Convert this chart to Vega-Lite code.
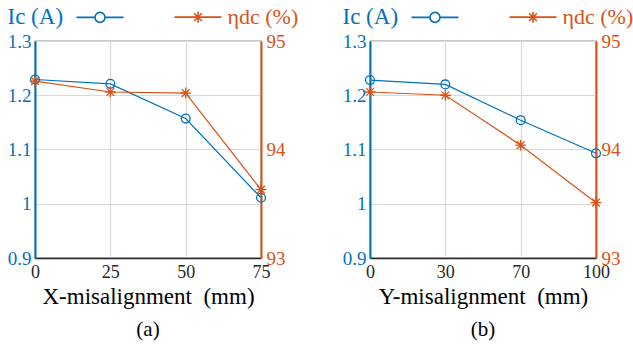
{
  "$schema": "https://vega.github.io/schema/vega-lite/v6.json",
  "padding": {"left": 6, "top": 4, "right": 2, "bottom": 4},
  "config": {
    "font": "Liberation Serif",
    "style": {"guide-label": {"font": "Liberation Serif"}, "guide-title": {"font": "Liberation Serif"}, "group-title": {"font": "Liberation Serif"}},
    "view": {"stroke": "#262626", "strokeWidth": 1.2},
    "axis": {"labelFont": "Liberation Serif", "titleFont": "Liberation Serif", "titleFontWeight": "normal", "ticks": false, "gridColor": "#d9d9d9", "gridWidth": 1.2},
    "title": {"font": "Liberation Serif", "fontWeight": "normal"}
  },
  "datasets": {
    "a": [
      {"x": "0", "ic": 1.229, "eta": 94.63, "s": "Ic"},
      {"x": "25", "ic": 1.221, "eta": 94.53, "s": "Ic"},
      {"x": "50", "ic": 1.157, "eta": 94.52, "s": "Ic"},
      {"x": "75", "ic": 1.011, "eta": 93.63, "s": "Ic"}
    ],
    "b": [
      {"x": "0", "ic": 1.228, "eta": 94.53, "s": "Ic"},
      {"x": "30", "ic": 1.220, "eta": 94.50, "s": "Ic"},
      {"x": "70", "ic": 1.154, "eta": 94.04, "s": "Ic"},
      {"x": "100", "ic": 1.093, "eta": 93.51, "s": "Ic"}
    ]
  },
  "bounds": "flush",
  "spacing": 109,
  "resolve": {"scale": {"color": "independent", "shape": "independent"}, "legend": {"color": "independent", "shape": "independent"}},
  "hconcat": [
    {
      "width": 226, "height": 217,
      "view": {"stroke": "#262626", "strokeWidth": 1.2},
      "data": {"name": "a"},
      "title": {"text": "(a)", "orient": "bottom", "fontSize": 21, "offset": 11, "font": "Liberation Serif"},
      "encoding": {
        "x": {"field": "x", "type": "ordinal", "sort": null, "scale": {"type": "point", "padding": 0},
          "axis": {"labelAngle": 0, "grid": true, "labelFont": "Liberation Serif", "titleFont": "Liberation Serif", "labelFontSize": 18, "labelColor": "#262626", "labelPadding": 5, "domainColor": "#262626", "domainWidth": 1.5, "title": "X-misalignment\u00a0\u00a0(mm)", "titleFontSize": 23, "titleColor": "#000000", "titlePadding": 4}}
      },
      "layer": [
        {
          "encoding": {"y": {"field": "ic", "type": "quantitative", "scale": {"domain": [0.9, 1.3], "nice": false, "zero": false},
            "axis": {"orient": "left", "values": [0.9, 1.0, 1.1, 1.2, 1.3], "format": "~g", "labelFont": "Liberation Serif", "titleFont": "Liberation Serif", "labelFontSize": 19, "labelColor": "#0072BD", "labelPadding": 4, "domainColor": "#0072BD", "domainWidth": 2, "grid": true,
              "title": "Ic (A)", "titleAngle": 0, "titleAlign": "left", "titleBaseline": "middle", "titleX": -28, "titleY": -25, "titleFontSize": 23, "titleColor": "#0072BD"}}},
          "layer": [
            {"mark": {"type": "line", "color": "#0072BD", "strokeWidth": 1.2}},
            {"mark": {"type": "point", "shape": "circle", "filled": false, "size": 78, "color": "#0072BD", "strokeWidth": 1.3, "opacity": 1}}
          ]
        },
        {
          "encoding": {"y": {"field": "eta", "type": "quantitative", "scale": {"domain": [93, 95], "nice": false, "zero": false},
            "axis": {"orient": "right", "values": [93, 94, 95], "format": "~g", "labelFont": "Liberation Serif", "titleFont": "Liberation Serif", "labelFontSize": 19, "labelColor": "#D95319", "labelPadding": 5, "domainColor": "#D95319", "domainWidth": 2, "grid": false,
              "title": "ηdc (%)", "titleAngle": 0, "titleAlign": "left", "titleBaseline": "middle", "titleX": -34, "titleY": -25, "titleFontSize": 22, "titleColor": "#D95319"}}},
          "layer": [
            {"mark": {"type": "line", "color": "#D95319", "strokeWidth": 1.2}},
            {"mark": {"type": "point", "shape": "M-1,0L1,0M0,-1L0,1M-0.7,-0.7L0.7,0.7M-0.7,0.7L0.7,-0.7", "filled": false, "size": 121, "color": "#D95319", "strokeWidth": 1.3, "opacity": 1}}
          ]
        },
        {
          "transform": [{"filter": "false"}],
          "mark": {"type": "point", "filled": false, "strokeWidth": 1.6, "opacity": 1},
          "encoding": {
            "color": {"field": "s", "type": "nominal", "scale": {"domain": ["Ic", "eta"], "range": ["#0072BD", "#D95319"]},
              "legend": {"orient": "none", "legendX": 59, "legendY": -30, "direction": "horizontal", "title": null, "labelExpr": "''", "labelFontSize": 1, "labelOffset": 0, "symbolSize": 100, "columnPadding": 44, "padding": 0, "symbolStrokeWidth": 1.6}},
            "shape": {"field": "s", "type": "nominal", "scale": {"domain": ["Ic", "eta"], "range": ["M-4.7,0L-1,0M1,0L4.7,0M1,0A1,1,0,1,1,-1,0A1,1,0,1,1,1,0Z", "M-4.7,0L4.7,0M0,-1.1L0,1.1M-0.78,-0.78L0.78,0.78M-0.78,0.78L0.78,-0.78"]},
              "legend": {"orient": "none", "legendX": 59, "legendY": -30, "direction": "horizontal", "title": null, "labelExpr": "''", "labelFontSize": 1, "labelOffset": 0, "symbolSize": 100, "columnPadding": 44, "padding": 0, "symbolStrokeWidth": 1.6}}
          }
        }
      ],
      "resolve": {"scale": {"y": "independent"}}
    },
    {
      "width": 226, "height": 217,
      "view": {"stroke": "#262626", "strokeWidth": 1.2},
      "data": {"name": "b"},
      "title": {"text": "(b)", "orient": "bottom", "fontSize": 21, "offset": 11, "font": "Liberation Serif"},
      "encoding": {
        "x": {"field": "x", "type": "ordinal", "sort": null, "scale": {"type": "point", "padding": 0},
          "axis": {"labelAngle": 0, "grid": true, "labelFont": "Liberation Serif", "titleFont": "Liberation Serif", "labelFontSize": 18, "labelColor": "#262626", "labelPadding": 5, "domainColor": "#262626", "domainWidth": 1.5, "title": "Y-misalignment\u00a0\u00a0(mm)", "titleFontSize": 23, "titleColor": "#000000", "titlePadding": 4}}
      },
      "layer": [
        {
          "encoding": {"y": {"field": "ic", "type": "quantitative", "scale": {"domain": [0.9, 1.3], "nice": false, "zero": false},
            "axis": {"orient": "left", "values": [0.9, 1.0, 1.1, 1.2, 1.3], "format": "~g", "labelFont": "Liberation Serif", "titleFont": "Liberation Serif", "labelFontSize": 19, "labelColor": "#0072BD", "labelPadding": 4, "domainColor": "#0072BD", "domainWidth": 2, "grid": true,
              "title": "Ic (A)", "titleAngle": 0, "titleAlign": "left", "titleBaseline": "middle", "titleX": -28, "titleY": -25, "titleFontSize": 23, "titleColor": "#0072BD"}}},
          "layer": [
            {"mark": {"type": "line", "color": "#0072BD", "strokeWidth": 1.2}},
            {"mark": {"type": "point", "shape": "circle", "filled": false, "size": 78, "color": "#0072BD", "strokeWidth": 1.3, "opacity": 1}}
          ]
        },
        {
          "encoding": {"y": {"field": "eta", "type": "quantitative", "scale": {"domain": [93, 95], "nice": false, "zero": false},
            "axis": {"orient": "right", "values": [93, 94, 95], "format": "~g", "labelFont": "Liberation Serif", "titleFont": "Liberation Serif", "labelFontSize": 19, "labelColor": "#D95319", "labelPadding": 5, "domainColor": "#D95319", "domainWidth": 2, "grid": false,
              "title": "ηdc (%)", "titleAngle": 0, "titleAlign": "left", "titleBaseline": "middle", "titleX": -34, "titleY": -25, "titleFontSize": 22, "titleColor": "#D95319"}}},
          "layer": [
            {"mark": {"type": "line", "color": "#D95319", "strokeWidth": 1.2}},
            {"mark": {"type": "point", "shape": "M-1,0L1,0M0,-1L0,1M-0.7,-0.7L0.7,0.7M-0.7,0.7L0.7,-0.7", "filled": false, "size": 121, "color": "#D95319", "strokeWidth": 1.3, "opacity": 1}}
          ]
        },
        {
          "transform": [{"filter": "false"}],
          "mark": {"type": "point", "filled": false, "strokeWidth": 1.6, "opacity": 1},
          "encoding": {
            "color": {"field": "s", "type": "nominal", "scale": {"domain": ["Ic", "eta"], "range": ["#0072BD", "#D95319"]},
              "legend": {"orient": "none", "legendX": 59, "legendY": -30, "direction": "horizontal", "title": null, "labelExpr": "''", "labelFontSize": 1, "labelOffset": 0, "symbolSize": 100, "columnPadding": 44, "padding": 0, "symbolStrokeWidth": 1.6}},
            "shape": {"field": "s", "type": "nominal", "scale": {"domain": ["Ic", "eta"], "range": ["M-4.7,0L-1,0M1,0L4.7,0M1,0A1,1,0,1,1,-1,0A1,1,0,1,1,1,0Z", "M-4.7,0L4.7,0M0,-1.1L0,1.1M-0.78,-0.78L0.78,0.78M-0.78,0.78L0.78,-0.78"]},
              "legend": {"orient": "none", "legendX": 59, "legendY": -30, "direction": "horizontal", "title": null, "labelExpr": "''", "labelFontSize": 1, "labelOffset": 0, "symbolSize": 100, "columnPadding": 44, "padding": 0, "symbolStrokeWidth": 1.6}}
          }
        }
      ],
      "resolve": {"scale": {"y": "independent"}}
    }
  ]
}
